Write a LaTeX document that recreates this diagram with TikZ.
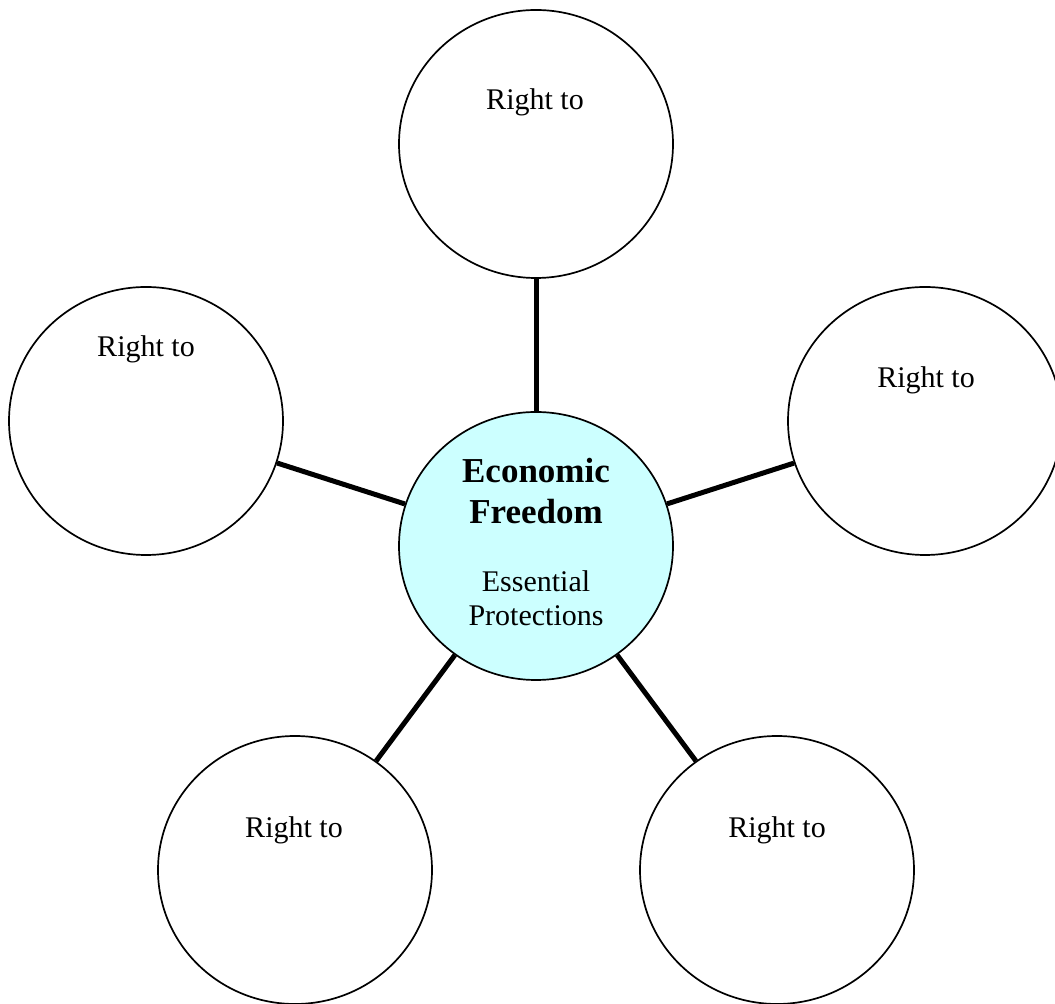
\documentclass[tikz,border=0pt]{standalone}
\usepackage{fontspec}
\setmainfont{Liberation Serif}
\usetikzlibrary{shapes.geometric}
\definecolor{palecyan}{HTML}{CCFFFF}

\begin{document}
\begin{tikzpicture}[x=1pt,y=1pt,
  right/.style={draw,ellipse,line width=1.7pt,inner sep=0pt,minimum width=274pt,minimum height=268pt},
  spoke/.style={line width=5pt},
  lbl/.style={anchor=base,font=\fontsize{30}{34}\selectfont}]
\useasboundingbox (0,0) rectangle (1055,1004);
\node[right,fill=palecyan](econ) at (536,458) {};
\node[right](rtop) at (536,860) {};
\node[right](rleft) at (146,583) {};
\node[right](rright) at (925,583) {};
\node[right](rlow) at (295,134) {};
\node[right](rlowr) at (777,134) {};
\draw[spoke] (econ) -- (rtop);
\draw[spoke] (econ) -- (rleft);
\draw[spoke] (econ) -- (rright);
\draw[spoke] (econ) -- (rlow);
\draw[spoke] (econ) -- (rlowr);
\node[lbl](ttop) at (535,894) {Right to};
\node[lbl](tleft) at (146,647) {Right to};
\node[lbl](tright) at (926,616) {Right to};
\node[lbl](tlow) at (294,166) {Right to};
\node[lbl](tlowr) at (777,166) {Right to};
\node[lbl,align=center,font=\fontsize{35}{41}\selectfont\bfseries](econtitle) at (536,480) {Economic\\Freedom};
\node[lbl,align=center,font=\fontsize{30}{34}\selectfont](econsub) at (536,378) {Essential\\Protections};
\end{tikzpicture}
\end{document}
